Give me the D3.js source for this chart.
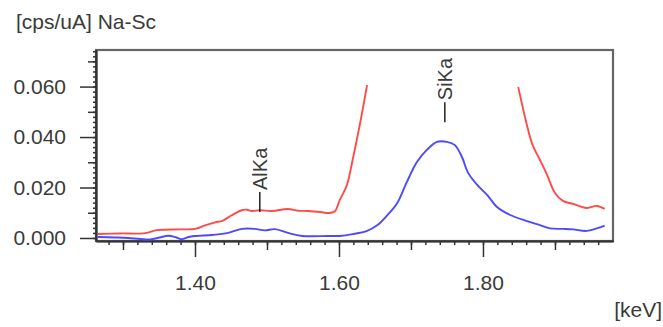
<!DOCTYPE html>
<html>
<head>
<meta charset="utf-8">
<script src="https://cdn.jsdelivr.net/npm/d3@7"></script>
<style>
  body { margin: 0; background: #fff; }
  text { font-family: "Liberation Sans", Arial, sans-serif; fill: #3a3a3a; }
</style>
</head>
<body>
<svg id="chart"></svg>
<script>
// spectrum (keV, cps/uA); null = off scale
const redEnergy = [1.265, 1.296, 1.331, 1.347, 1.379, 1.400, 1.414, 1.428, 1.438, 1.451, 1.465, 1.472,
  1.479, 1.490, 1.507, 1.529, 1.543, 1.557, 1.574, 1.585, 1.594, 1.601, 1.611, 1.619, 1.629, 1.639,
  1.700, 1.849, 1.861, 1.869, 1.879, 1.889, 1.900, 1.911, 1.925, 1.944, 1.958, 1.969];
const redCounts = [0.0016, 0.0018, 0.0019, 0.0031, 0.0034, 0.0036, 0.0050, 0.0062, 0.0068, 0.0090, 0.0110, 0.0112,
  0.0107, 0.0110, 0.0107, 0.0115, 0.0108, 0.0107, 0.0103, 0.0099, 0.0105, 0.0150, 0.0210, 0.0310, 0.0450, 0.0606,
  null, 0.0598, 0.0448, 0.0368, 0.0310, 0.0250, 0.0178, 0.0147, 0.0135, 0.0119, 0.0127, 0.0115];

const blueEnergy = [1.265, 1.289, 1.307, 1.324, 1.338, 1.351, 1.363, 1.374, 1.382, 1.390, 1.400, 1.424,
  1.446, 1.465, 1.483, 1.497, 1.511, 1.529, 1.549, 1.585, 1.601, 1.619, 1.639, 1.653, 1.667, 1.681,
  1.694, 1.708, 1.722, 1.736, 1.750, 1.761, 1.771, 1.779, 1.792, 1.806, 1.819, 1.838, 1.861, 1.879,
  1.893, 1.911, 1.925, 1.944, 1.958, 1.969];
const blueCounts = [0.0004, 0.0002, 0.0000, -0.0004, -0.0006, 0.0002, 0.0009, 0.0002, -0.0005, 0.0003, 0.0008, 0.0012,
  0.0020, 0.0036, 0.0036, 0.0030, 0.0035, 0.0020, 0.0008, 0.0008, 0.0008, 0.0015, 0.0028, 0.0050, 0.0090, 0.0139,
  0.0220, 0.0300, 0.0349, 0.0381, 0.0381, 0.0368, 0.0320, 0.0260, 0.0210, 0.0170, 0.0124, 0.0091, 0.0067, 0.0051,
  0.0038, 0.0036, 0.0034, 0.0028, 0.0038, 0.0049];

const peakNames = ["AlKa", "SiKa"];
const peakEnergy = [1.490, 1.747];
const peakBase = [0.0103, 0.0459];

const xMajor = [1.40, 1.60, 1.80];
const xMid = [1.30, 1.50, 1.70, 1.90];
const yMajor = [0.000, 0.020, 0.040, 0.060];
const yMid = [0.010, 0.030, 0.050, 0.070];

const width = 663, height = 327;
const plotLeft = 96, plotRight = 613, plotTop = 50, plotBottom = 241;
const fontSize = "21px";

const svg = d3.select("#chart").attr("width", width).attr("height", height);

const x = d3.scaleLinear().domain([1.2625, 1.9806]).range([plotLeft, plotRight]);
const y = d3.scaleLinear().domain([-0.0012, 0.0745]).range([plotBottom, plotTop]);

// minor ticks every 0.02 keV and 0.002 cps/uA
const xMinor = d3.range(64, 99).map((i) => i / 50).filter((v) => x(v) > plotLeft + 2 && x(v) < plotRight - 2);
const yMinor = d3.range(0, 38).map((i) => i / 500);

svg.append("rect")
  .attr("x", plotLeft).attr("y", plotTop)
  .attr("width", plotRight - plotLeft).attr("height", plotBottom - plotTop)
  .attr("fill", "none").attr("stroke", "#666").attr("stroke-width", 2.2);

function tickAxis(axis, size, tv, labels) {
  return axis.tickValues(tv).tickSize(size).tickSizeOuter(0)
    .tickFormat(labels ? d3.format(".2f") : "");
}

const xg = svg.append("g").attr("transform", `translate(0,${plotBottom})`);
xg.append("g").call(tickAxis(d3.axisBottom(x), 4, xMinor, false));
xg.append("g").call(tickAxis(d3.axisBottom(x), 9, xMid, false));
xg.append("g").call(tickAxis(d3.axisBottom(x), 16, xMajor, true).tickPadding(18));

const yg = svg.append("g").attr("transform", `translate(${plotLeft},0)`);
yg.append("g").call(tickAxis(d3.axisLeft(y), 3, yMinor, false));
yg.append("g").call(tickAxis(d3.axisLeft(y), 8, yMid, false));
yg.append("g").call(tickAxis(d3.axisLeft(y), 16, yMajor, true).tickFormat(d3.format(".3f")).tickPadding(14));

svg.selectAll(".domain").attr("stroke", "#333").attr("stroke-width", 1.6);
svg.selectAll(".tick line").attr("stroke", "#333").attr("stroke-width", 1.5);
svg.selectAll(".tick text").style("font-size", fontSize).attr("fill", "#3a3a3a");

const line = d3.line()
  .defined((d) => d[1] !== null)
  .x((d) => x(d[0]))
  .y((d) => y(d[1]))
  .curve(d3.curveCatmullRom.alpha(0.5));

svg.append("path")
  .datum(d3.zip(redEnergy, redCounts))
  .attr("d", line)
  .attr("fill", "none").attr("stroke", "#ff4a4a").attr("stroke-width", 1.9);

svg.append("path")
  .datum(d3.zip(blueEnergy, blueCounts))
  .attr("d", line)
  .attr("fill", "none").attr("stroke", "#4a4aff").attr("stroke-width", 1.9);

// peak markers
const peaks = svg.selectAll("g.peak")
  .data(d3.zip(peakNames, peakEnergy, peakBase))
  .join("g").attr("class", "peak");

peaks.append("line")
  .attr("x1", (d) => x(d[1])).attr("x2", (d) => x(d[1]))
  .attr("y1", (d) => y(d[2])).attr("y2", (d) => y(d[2]) - 20)
  .attr("stroke", "#222").attr("stroke-width", 1.5);

peaks.append("text")
  .attr("transform", (d) => `translate(${x(d[1])},${y(d[2]) - 22}) rotate(-90)`)
  .attr("dy", "0.35em")
  .style("font-size", "20px")
  .attr("fill", "#222")
  .text((d) => d[0]);

svg.append("text").attr("x", 16).attr("y", 29).style("font-size", fontSize).text("[cps/uA] Na-Sc");
svg.append("text").attr("x", 662).attr("y", 317).attr("text-anchor", "end").style("font-size", fontSize).text("[keV]");
</script>
</body>
</html>
